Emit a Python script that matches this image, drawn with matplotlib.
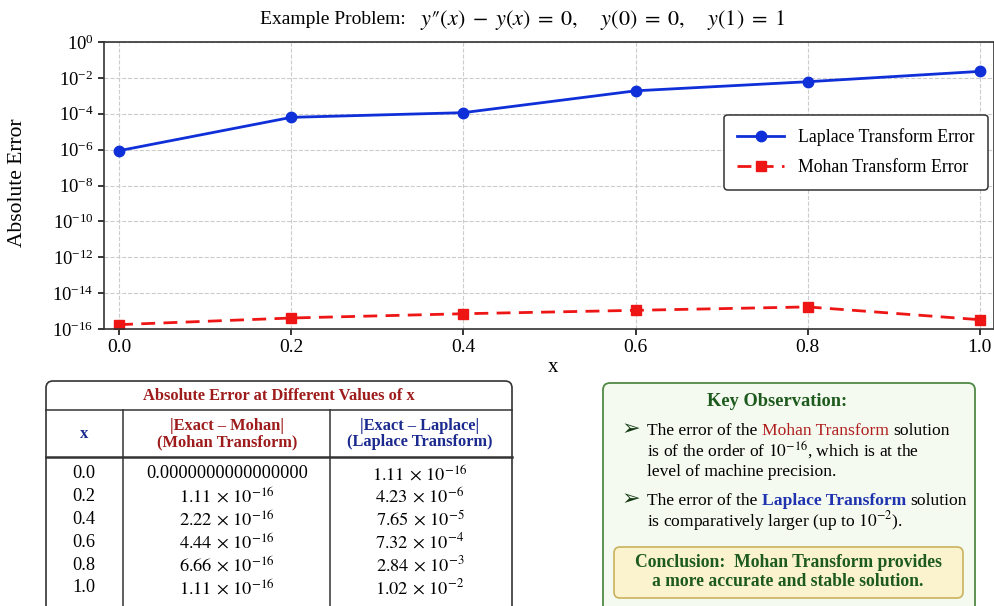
import numpy as np
import matplotlib
matplotlib.use("Agg")
from matplotlib import pyplot as plt
from matplotlib.patches import FancyBboxPatch

plt.rcParams['font.family'] = ['Liberation Serif', 'DejaVu Sans']
plt.rcParams['mathtext.fontset'] = 'stix'

# values
x_vals = [0.0, 0.2, 0.4, 0.6, 0.8, 1.0]
laplace_err = [8.7e-7, 6.3e-5, 1.15e-4, 1.9e-3, 6.1e-3, 2.3e-2]
mohan_err = [1.75e-16, 4.1e-16, 7.1e-16, 1.1e-15, 1.7e-15, 3.3e-16]

# values printed in the table
table_x = ["0.0", "0.2", "0.4", "0.6", "0.8", "1.0"]
table_mohan = [0.0, 1.11e-16, 2.22e-16, 4.44e-16, 6.66e-16, 1.11e-16]
table_laplace = [1.11e-16, 4.23e-6, 7.65e-5, 7.32e-4, 2.84e-3, 1.02e-2]

BLUE = '#0f2fd8'
RED = '#ee1515'
DARKRED = '#9e1b1b'
DARKBLUE = '#1b2a8e'
DARKGREEN = '#1d5a1d'
FS = 12.6   # body text in the note box


def sci(v):
    if v == 0:
        return "%.16f" % v
    e = int(np.floor(np.log10(v)))
    m = v / 10**e
    return r"$%.2f\,\times\,10^{%d}$" % (m, e)


fig = plt.figure(figsize=(9.95, 6.06), dpi=100)

ax = fig.add_axes([104/995, 1-329/606, 890/995, 287/606])
ax.semilogy(x_vals, laplace_err, '-o', color=BLUE, lw=2, ms=7.5,
            label='Laplace Transform Error')
ax.semilogy(x_vals, mohan_err, '--s', color=RED, lw=2, ms=7,
            label='Mohan Transform Error', dashes=(5, 3))
ax.set_xlim(-0.0175, 1.0165)
ax.set_ylim(1e-16, 1e0)
ax.set_yticks([10.0**k for k in range(-16, 1, 2)])
ax.minorticks_off()
ax.set_xticks(x_vals)
ax.set_xticklabels(["%.1f" % v for v in x_vals])
ax.tick_params(axis='y', labelsize=13.5, width=1.1, length=4)
ax.tick_params(axis='x', labelsize=14, width=1.1, length=4)
ax.grid(True, ls='--', color='#cccccc', lw=0.8)
for s in ax.spines.values():
    s.set_color('#333333')
    s.set_linewidth(1.2)
leg = ax.legend(loc='upper right', bbox_to_anchor=(0.993, 0.746), fontsize=12.8,
                framealpha=1, edgecolor='#333333', handlelength=2.6,
                borderpad=0.75, labelspacing=0.75, borderaxespad=0)
leg.get_frame().set_linewidth(1.1)

fig.text(406/995, 1-20/606, "Example Problem:", ha='right', va='center', fontsize=14)
fig.text(420/995, 1-20/606,
         "$y\u2033(x)\\;-\\;y(x)\\;=\\;0,\\quad\\; y(0)\\;=\\;0,\\quad\\; y(1)\\;=\\;1$",
         ha='left', va='center', fontsize=16)
fig.text(18/995, 1-183/606, "Absolute Error", rotation=90, ha='center',
         va='center', fontsize=15.5)
fig.text(553/995, 1-367/606, "x", ha='center', va='center', fontsize=15)

# overlay in pixel units for the table and the note box
ov = fig.add_axes([0, 0, 1, 1])
ov.set_xlim(0, 995)
ov.set_ylim(606, 0)
ov.axis('off')
ov.patch.set_visible(False)

# ---- table ----
ov.add_patch(FancyBboxPatch((46, 381), 466, 240, boxstyle="round,pad=0,rounding_size=7",
                            fc='white', ec='#333333', lw=1.2))
ov.plot([46, 512], [410, 410], color='#333333', lw=1.1)
ov.plot([46, 512], [457, 457], color='#333333', lw=1.8)
ov.plot([123, 123], [410, 615], color='#333333', lw=1.1)
ov.plot([330, 330], [410, 615], color='#333333', lw=1.1)
ov.text(279, 396, "Absolute Error at Different Values of x", ha='center', va='center',
        fontsize=11.8, fontweight='bold', color=DARKRED)
ov.text(84, 434, "x", ha='center', va='center', fontsize=12, fontweight='bold', color=DARKBLUE)
ov.text(227, 434, "|Exact \u2013 Mohan|\n(Mohan Transform)", ha='center', va='center',
        fontsize=11.8, fontweight='bold', color=DARKRED, linespacing=1.05)
ov.text(420, 434, "|Exact \u2013 Laplace|\n(Laplace Transform)", ha='center', va='center',
        fontsize=11.8, fontweight='bold', color=DARKBLUE, linespacing=1.05)
for i in range(len(table_x)):
    y = 474 + i * 22.8
    ov.text(84, y, table_x[i], ha='center', va='center', fontsize=13.2)
    ov.text(227, y, sci(table_mohan[i]), ha='center', va='center', fontsize=13.2)
    ov.text(420, y, sci(table_laplace[i]), ha='center', va='center', fontsize=13.2)

# ---- key observation box ----
ov.add_patch(FancyBboxPatch((603, 383), 372, 240, boxstyle="round,pad=0,rounding_size=7",
                            fc='#f4faf0', ec='#4f8a45', lw=1.3))
ov.text(777, 402, "Key Observation:", ha='center', va='center', fontsize=13.2,
        fontweight='bold', color=DARKGREEN)

r = fig.canvas.get_renderer()
sp = ov.text(0, 0, "a a", fontsize=FS)
sp2 = ov.text(0, 0, "aa", fontsize=FS)
space_w = sp.get_window_extent(r).width - sp2.get_window_extent(r).width
sp.remove()
sp2.remove()


def line_parts(x, y, parts):
    for s, c, w in parts:
        t = ov.text(x, y, s, color=c, fontweight=w, fontsize=FS, ha='left', va='baseline')
        x += t.get_window_extent(r).width + space_w


for yb in [435, 505]:
    ov.text(622, yb, "\u27a2", family='DejaVu Sans', fontsize=16, color='#143a14',
            ha='left', va='baseline')

line_parts(647, 435, [("The error of the", 'black', 'normal'),
                      ("Mohan Transform", '#b01e1e', 'normal'),
                      ("solution", 'black', 'normal')])
ov.text(647, 456, r"is of the order of $10^{-16}$, which is at the", fontsize=FS, va='baseline')
ov.text(647, 476, "level of machine precision.", fontsize=FS, va='baseline')
line_parts(647, 505, [("The error of the", 'black', 'normal'),
                      ("Laplace Transform", '#1f33b0', 'bold'),
                      ("solution", 'black', 'normal')])
ov.text(647, 526, r"is comparatively larger (up to $10^{-2}$).", fontsize=FS, va='baseline')

ov.add_patch(FancyBboxPatch((614, 547), 349, 51, boxstyle="round,pad=0,rounding_size=6",
                            fc='#fbf3cd', ec='#c9b25e', lw=1.2))
ov.text(788, 572, "Conclusion:  Mohan Transform provides\na more accurate and stable solution.",
        ha='center', va='center', fontsize=12.7, fontweight='bold', color=DARKGREEN,
        linespacing=1.2)

fig.savefig("out.png", dpi=100)
